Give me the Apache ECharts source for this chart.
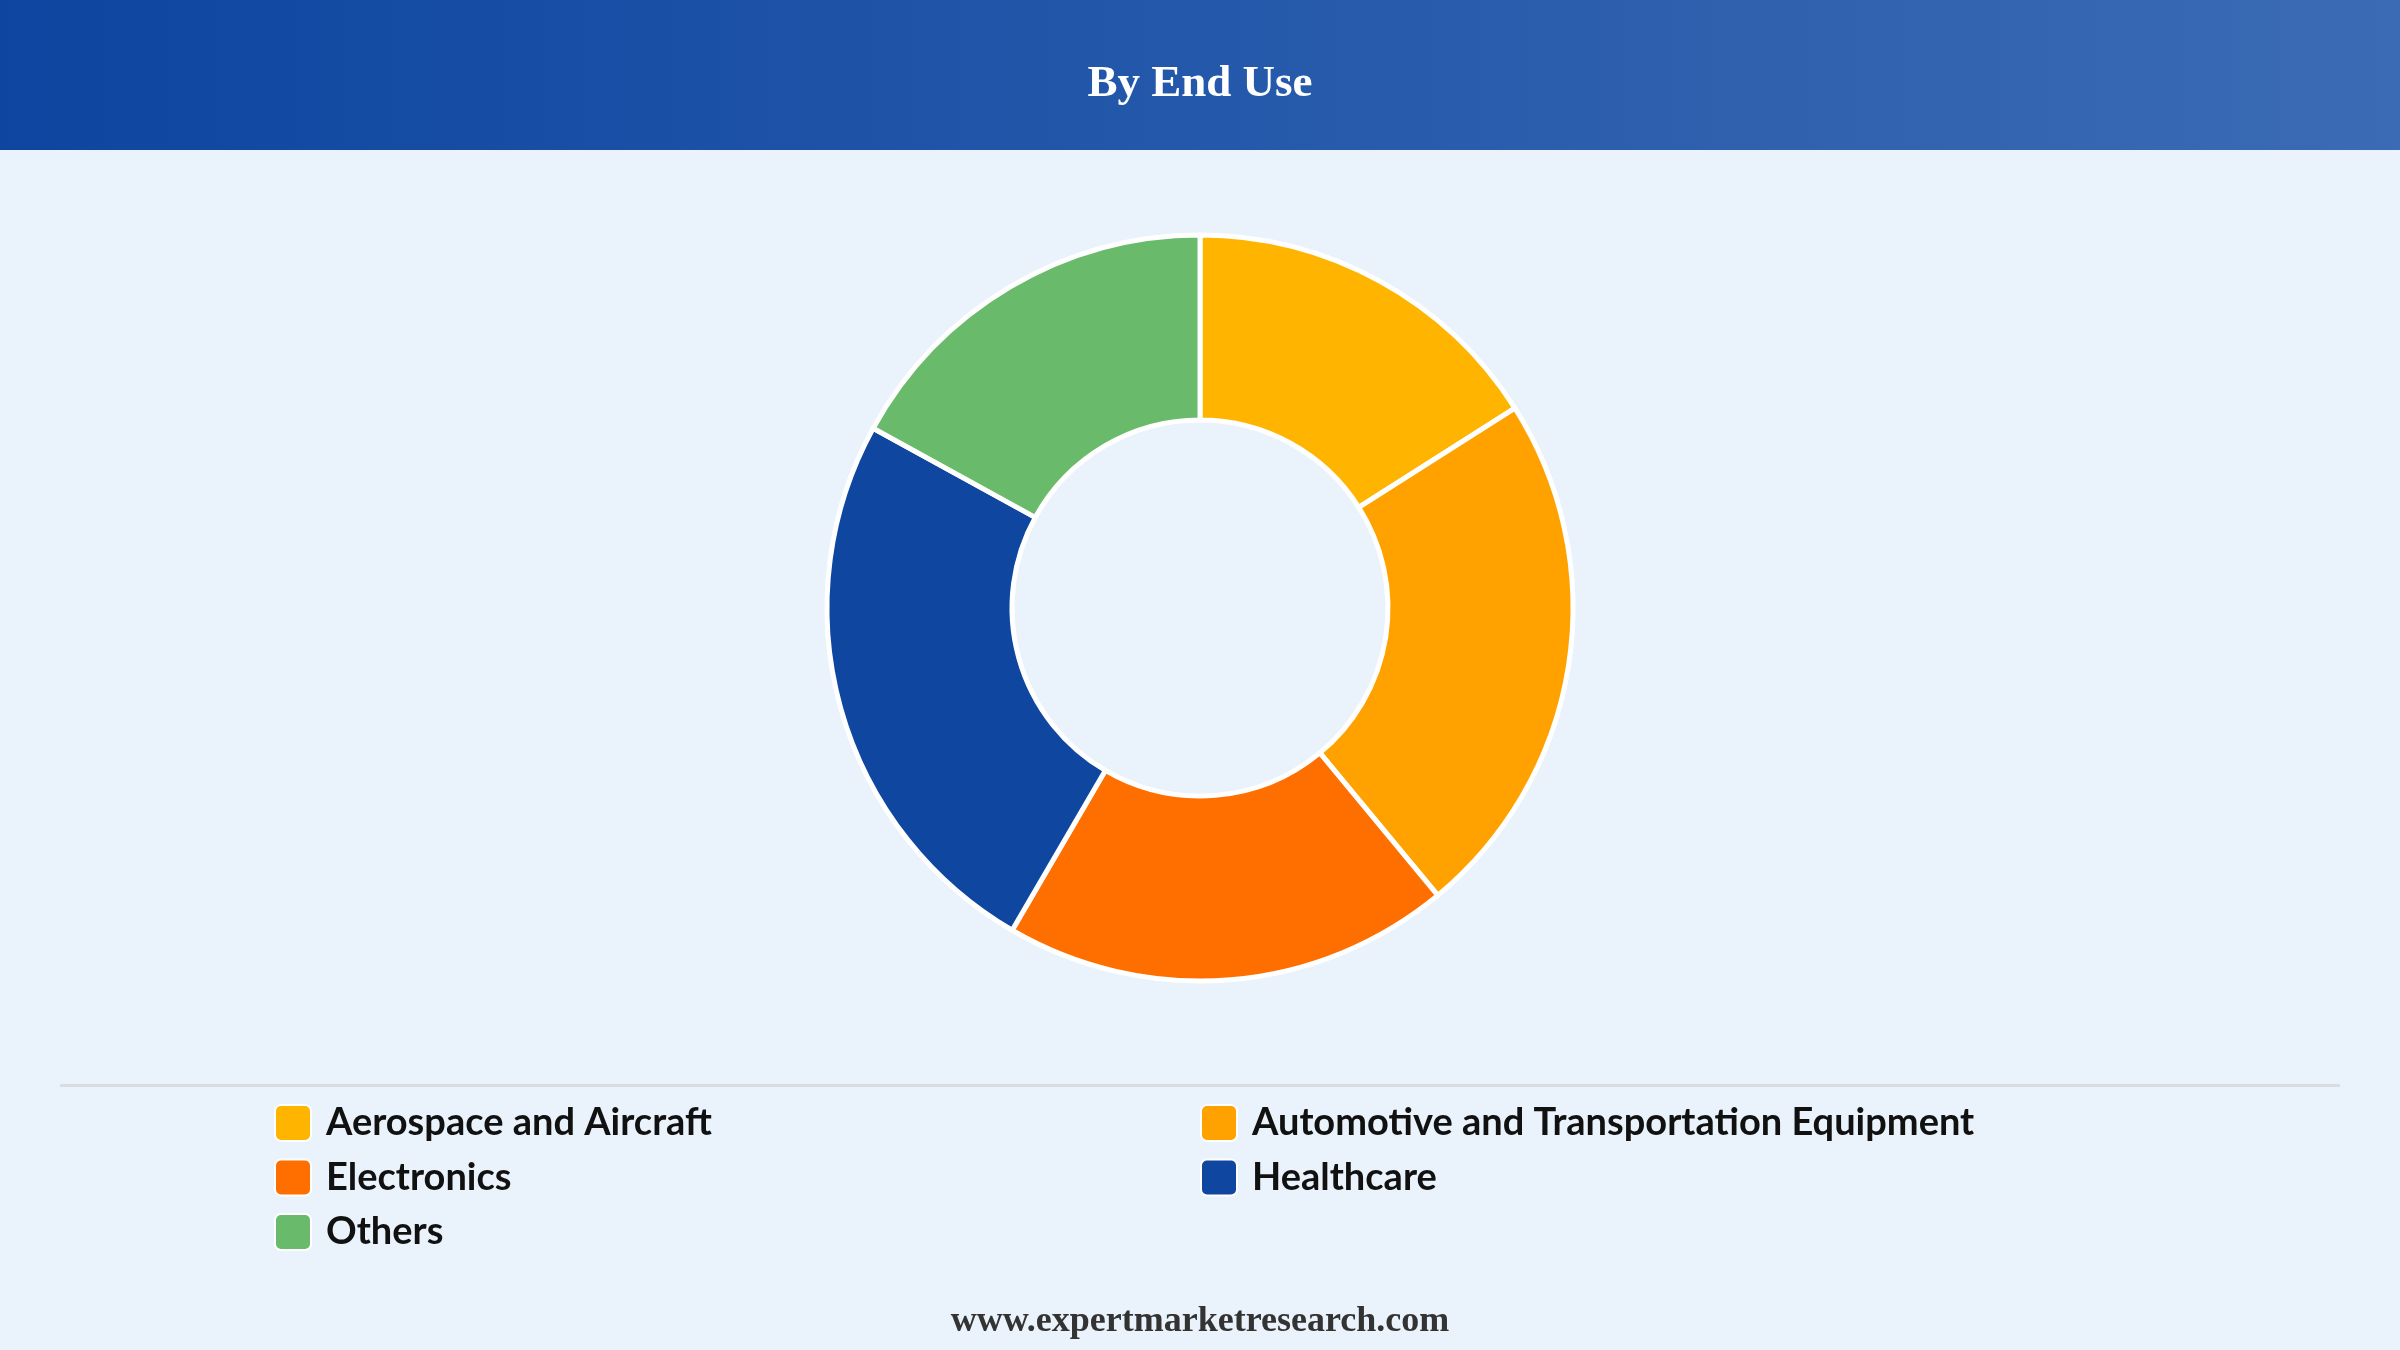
<!DOCTYPE html>
<html>
<head>
<meta charset="utf-8">
<script src="https://cdn.jsdelivr.net/npm/echarts@6/dist/echarts.min.js"></script>
<style>
html,body{margin:0;padding:0;background:#EAF2FB;}
#chart{width:2400px;height:1350px;}
</style>
</head>
<body>
<div id="chart"></div>
<script>
const titleText = 'By End Use';
const footerText = 'www.expertmarketresearch.com';
const categories = ['Aerospace and Aircraft', 'Automotive and Transportation Equipment', 'Electronics', 'Healthcare', 'Others'];
const values = [16, 23, 19.4, 24.6, 17];
const colors = ['#FFB400', '#FFA200', '#FF6F00', '#0E46A0', '#69BB6B'];
const legendLeft = ['Aerospace and Aircraft', 'Electronics', 'Others'];
const legendRight = ['Automotive and Transportation Equipment', 'Healthcare'];

const chart = echarts.init(document.getElementById('chart'), null, {renderer: 'canvas'});
const legendText = {fontFamily: 'Lato', fontWeight: 'bold', fontSize: 38, lineHeight: 36, color: '#111111', padding: [0, 0, 0, 10]};
const icon = 'path://M6,0 H30 A6,6 0 0 1 36,6 V30 A6,6 0 0 1 30,36 H6 A6,6 0 0 1 0,30 V6 A6,6 0 0 1 6,0 Z';
chart.setOption({
  backgroundColor: '#EAF2FB',
  animation: false,
  graphic: [
    {type: 'rect', left: 0, top: 0, shape: {width: 2400, height: 150}, z: 0,
     style: {fill: new echarts.graphic.LinearGradient(0, 0, 1, 0, [{offset: 0, color: '#0D45A0'}, {offset: 1, color: '#3B6BB4'}])}},
    {type: 'rect', left: 60, top: 1084, shape: {width: 2280, height: 3}, style: {fill: '#D8DCE2'}},
    {type: 'text', left: 'center', top: 1304, style: {text: footerText, font: 'bold 36px "Liberation Serif"', fill: '#333333'}}
  ],
  title: {
    text: titleText, left: 'center', top: 57,
    textStyle: {fontFamily: 'Liberation Serif', fontWeight: 'bold', fontSize: 45, color: '#FFFFFF'}
  },
  legend: [
    {data: legendLeft, orient: 'vertical', left: 274, top: 1104, padding: 0, itemWidth: 36, itemHeight: 36, itemGap: 16.5,
     icon: icon, textStyle: legendText, selectedMode: false},
    {data: legendRight, orient: 'vertical', left: 1200, top: 1104, padding: 0, itemWidth: 36, itemHeight: 36, itemGap: 16.5,
     icon: icon, textStyle: legendText, selectedMode: false}
  ],
  series: [{
    type: 'pie',
    center: [1200, 608],
    radius: [188, 373],
    startAngle: 90,
    clockwise: true,
    label: {show: false},
    labelLine: {show: false},
    itemStyle: {borderColor: '#FFFFFF', borderWidth: 5},
    emphasis: {disabled: true},
    data: categories.map((c, i) => ({name: c, value: values[i], itemStyle: {color: colors[i]}}))
  }]
});
</script>
</body>
</html>
